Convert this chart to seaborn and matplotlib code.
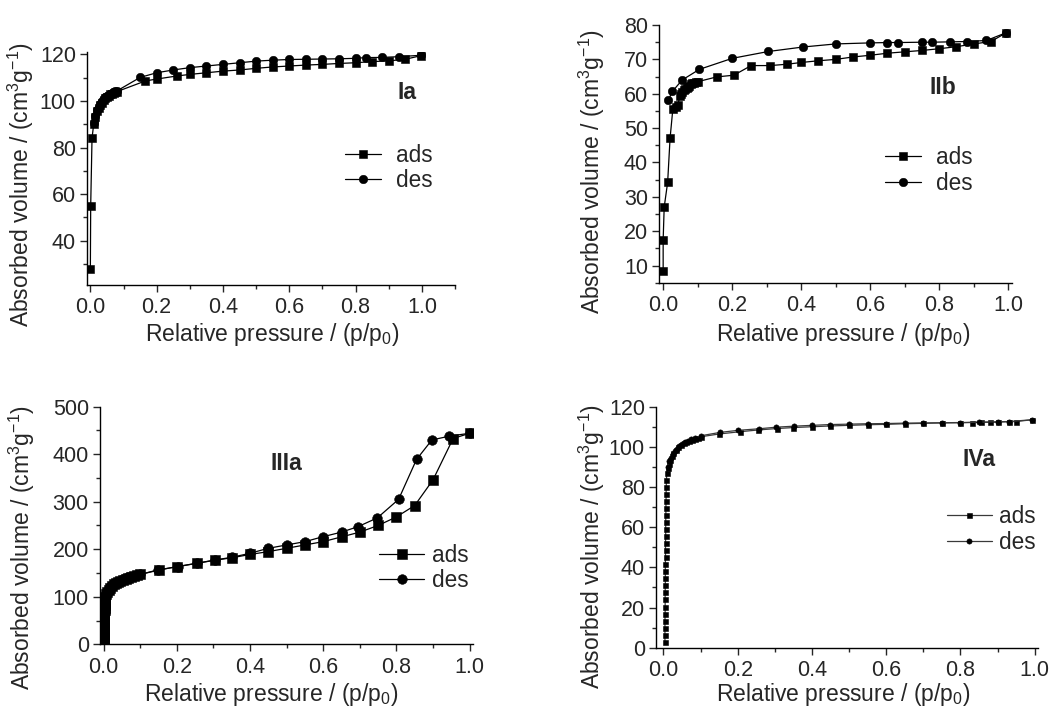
import matplotlib
matplotlib.use("Agg")
import matplotlib.pyplot as plt
from matplotlib.ticker import MultipleLocator
import seaborn as sns

# ---- Ia ----
ia_ads_p = [0.0, 0.001, 0.005, 0.01, 0.015, 0.02, 0.025, 0.03, 0.035, 0.04, 0.045, 0.05, 0.055,
            0.06, 0.065, 0.07, 0.075, 0.08, 0.166, 0.2, 0.26, 0.3, 0.35, 0.4, 0.45, 0.5, 0.55,
            0.6, 0.65, 0.7, 0.75, 0.8, 0.85, 0.9, 0.95, 0.996]
ia_ads_v = [28, 55, 84, 90, 93, 95.5, 97, 98.2, 99.3, 100.3, 101.1, 101.8, 102.3,
            102.8, 103.2, 103.5, 103.8, 104, 108.6, 109.4, 110.7, 111.4, 112.1, 112.8, 113.3, 114, 114.6,
            115, 115.4, 115.7, 116.1, 116.4, 116.9, 117.2, 117.9, 119.4]
ia_des_p = [0.01, 0.015, 0.02, 0.025, 0.03, 0.035, 0.04, 0.045, 0.05, 0.055, 0.06, 0.065, 0.07,
            0.075, 0.08, 0.15, 0.2, 0.25, 0.3, 0.35, 0.4, 0.45, 0.5, 0.55, 0.6, 0.65, 0.7, 0.75,
            0.8, 0.83, 0.88, 0.93, 0.996]
ia_des_v = [90.5, 93.5, 96, 97.5, 98.7, 99.8, 100.7, 101.5, 102.2, 102.7, 103.1, 103.5, 103.8,
            104.1, 104.3, 110.1, 112.1, 113.3, 114.3, 115, 115.7, 116.4, 117.1, 117.5, 117.8, 117.9, 118, 118.1,
            118.3, 118.6, 118.7, 119, 119.6]

# ---- IIb ----
iib_ads_p = [0.0, 0.0, 0.003, 0.013, 0.02, 0.028, 0.036, 0.043, 0.048, 0.052, 0.056, 0.06, 0.064,
             0.068, 0.072, 0.076, 0.08, 0.085, 0.09, 0.095, 0.1, 0.155, 0.205, 0.255, 0.31, 0.36,
             0.4, 0.45, 0.5, 0.55, 0.6, 0.65, 0.7, 0.75, 0.8, 0.85, 0.9, 0.95, 0.995]
iib_ads_v = [8.5, 17.5, 27, 34.2, 47, 55.5, 56, 56.7, 59.4, 60, 60.5, 61, 61.4,
             61.8, 62.1, 62.4, 62.7, 63, 63.2, 63.4, 63.5, 64.9, 65.4, 68.2, 68.2, 68.6,
             69.1, 69.6, 70.0, 70.7, 71.2, 71.8, 72.2, 72.6, 73.1, 73.7, 74.5, 75.2, 77.8]
iib_des_p = [0.015, 0.027, 0.055, 0.105, 0.2, 0.305, 0.405, 0.5, 0.6, 0.65, 0.68, 0.75, 0.78,
             0.83, 0.88, 0.937, 0.995]
iib_des_v = [58.2, 60.7, 64.0, 67.1, 70.3, 72.3, 73.6, 74.5, 74.8, 74.9, 74.9, 75.0, 75.0,
             75.1, 75.2, 75.5, 77.8]

# ---- IIIa ----
iiia_ads_p = [0.001, 0.001, 0.001, 0.001, 0.001, 0.0015, 0.0015, 0.0015, 0.0015, 0.0015, 0.002, 0.002,
              0.002, 0.002, 0.0025, 0.0025, 0.003, 0.003, 0.0035, 0.004, 0.005, 0.007, 0.01, 0.014,
              0.018, 0.023, 0.028, 0.034, 0.04, 0.046, 0.053, 0.06, 0.067, 0.075, 0.083, 0.09, 0.1,
              0.15, 0.2, 0.255, 0.305, 0.35, 0.4, 0.45, 0.5, 0.55, 0.6, 0.65, 0.7, 0.75, 0.8,
              0.85, 0.9, 0.955, 1.0]
iiia_ads_v = [2, 7, 12, 17, 22, 27, 32, 37, 42, 47, 52, 57,
              62, 67, 72, 77, 82, 86, 90, 95, 100, 105, 110, 115,
              119, 123, 126, 129, 131.5, 134, 136, 138, 140, 142, 143.5, 145, 147,
              156, 163.5, 170.5, 177, 182, 189, 195, 202, 209, 216, 226, 236, 250, 268,
              292, 346, 433, 444]
iiia_des_p = [0.005, 0.01, 0.018, 0.028, 0.04, 0.053, 0.067, 0.083, 0.1, 0.148, 0.204, 0.255,
              0.305, 0.35, 0.4, 0.45, 0.5, 0.55, 0.6, 0.65, 0.695, 0.748, 0.806, 0.855, 0.897,
              0.945, 1.0]
iiia_des_v = [101, 111, 120, 127, 132, 137, 141, 144, 147, 156.5, 163.5, 170.5,
              177.5, 183, 191.5, 202, 209, 216, 226.5, 236, 247.5, 266, 305, 389, 430,
              438, 444]

# ---- IVa ----
iva_ads_p = [0.004, 0.004, 0.004, 0.004, 0.0045, 0.0045, 0.0045, 0.0045, 0.005, 0.005, 0.005, 0.005,
             0.0055, 0.0055, 0.0055, 0.006, 0.006, 0.006, 0.0065, 0.0065, 0.007, 0.007, 0.0075, 0.008,
             0.009, 0.011, 0.014, 0.018, 0.022, 0.027, 0.033, 0.04, 0.047, 0.054, 0.061, 0.068,
             0.076, 0.084, 0.092, 0.1, 0.15, 0.205, 0.255, 0.305, 0.35, 0.4, 0.45, 0.5, 0.55,
             0.6, 0.65, 0.7, 0.75, 0.8, 0.83, 0.855, 0.88, 0.9, 0.93, 0.95, 0.994]
iva_ads_v = [3, 6.5, 10, 13.5, 17, 20.5, 24, 27.5, 31, 34.5, 38, 41.5,
             45, 48.5, 52, 55.5, 59, 62.5, 66, 69.5, 73, 76.5, 80, 83.5,
             87, 89.5, 91.5, 93.5, 95.5, 97, 98.5, 99.8, 100.9, 101.8, 102.5, 103,
             103.5, 104, 104.5, 105, 106.4, 107.5, 108.4, 109.1, 109.6, 110, 110.4, 110.7, 111,
             111.2, 111.5, 111.7, 111.9, 112, 112.1, 112.2, 112.2, 112.3, 112.5, 112.6, 113.5]
iva_des_p = [0.012, 0.016, 0.02, 0.025, 0.03, 0.036, 0.043, 0.05, 0.058, 0.066, 0.075, 0.085,
             0.1, 0.153, 0.2, 0.258, 0.304, 0.353, 0.4, 0.45, 0.5, 0.55, 0.6, 0.65, 0.7, 0.75,
             0.8, 0.85, 0.9, 0.93, 0.994]
iva_des_v = [90, 92.7, 94.5, 96.3, 97.8, 99, 100.2, 101.2, 102.2, 103, 103.7, 104.4,
             105.5, 107.2, 108.2, 109, 109.8, 110.3, 110.7, 111.1, 111.3, 111.5, 111.6, 111.8, 111.9, 112,
             112.1, 112.3, 112.5, 112.6, 113.5]

sns.set_style("ticks")
plt.rcParams["font.family"] = ["Liberation Sans", "DejaVu Sans"]
plt.rcParams["mathtext.fontset"] = "custom"
plt.rcParams["mathtext.rm"] = "Liberation Sans"

XLABEL = r"Relative pressure / (p/p$\mathregular{_0}$)"
YLABEL = r"Absorbed volume / (cm$\mathregular{^3}$g$\mathregular{^{-1}}$)"

fig = plt.figure(figsize=(10.59, 7.07), dpi=100)


def panel(rect, ads_p, ads_v, des_p, des_v, name, xlim, ylim, ymaj, ymin,
          name_xy, leg_xy, ylab_xy, xlab_xy, ms, lw=0.9, col="black", hl=1.6, htp=0.6):
    ax = fig.add_axes(rect)
    sns.lineplot(x=ads_p, y=ads_v, ax=ax, color=col, marker="s", markersize=ms,
                 markerfacecolor="black", markeredgecolor="black", markeredgewidth=0.4,
                 linewidth=lw, estimator=None, sort=False, label="ads")
    sns.lineplot(x=des_p, y=des_v, ax=ax, color=col, marker="o", markersize=ms * 1.05,
                 markerfacecolor="black", markeredgecolor="black", markeredgewidth=0.4,
                 linewidth=lw, estimator=None, sort=False, label="des")
    ax.set_xlim(*xlim)
    ax.set_ylim(*ylim)
    ax.xaxis.set_major_locator(MultipleLocator(0.2))
    ax.xaxis.set_minor_locator(MultipleLocator(0.1))
    ax.yaxis.set_major_locator(MultipleLocator(ymaj))
    ax.yaxis.set_minor_locator(MultipleLocator(ymin))
    ax.tick_params(which="major", direction="out", length=5, width=1, labelsize=15.5)
    ax.tick_params(which="minor", direction="out", length=3, width=1)
    ax.tick_params(axis="x", pad=4)
    ax.tick_params(axis="y", pad=3)
    for s in ["top", "right"]:
        ax.spines[s].set_visible(False)
    for s in ["left", "bottom"]:
        ax.spines[s].set_linewidth(1)
        ax.spines[s].set_color("black")
    ax.set_xlabel(XLABEL, fontsize=16.5)
    ax.set_ylabel(YLABEL, fontsize=16.5)
    ax.xaxis.set_label_coords(*xlab_xy)
    ax.yaxis.set_label_coords(*ylab_xy)
    ax.text(name_xy[0], name_xy[1], name, transform=ax.transAxes, fontsize=16.5,
            fontweight="bold", ha="center", va="center")
    handles, labels = ax.get_legend_handles_labels()
    ax.legend(handles, labels, loc="upper left", bbox_to_anchor=leg_xy, frameon=False,
              borderpad=0, borderaxespad=0, handlelength=hl, handletextpad=htp,
              labelspacing=0.1, fontsize=16.3, numpoints=1)
    return ax


panel([0.0822, 0.5969, 0.3475, 0.3295], ia_ads_p, ia_ads_v, ia_des_p, ia_des_v, "Ia",
      (-0.01, 1.1), (21, 121), 20, 10, (0.87, 0.828), (0.701, 0.605),
      (-0.139, 0.43), (0.502, -0.153), ms=5.8, hl=1.6, htp=0.65)

panel([0.6223, 0.6001, 0.333, 0.3645], iib_ads_p, iib_ads_v, iib_des_p, iib_des_v, "IIb",
      (-0.012, 1.01), (5, 80), 10, 5, (0.806, 0.758), (0.641, 0.529),
      (-0.147, 0.431), (0.523, -0.147), ms=5.8, hl=1.6, htp=0.65)

panel([0.0944, 0.0887, 0.3525, 0.3361], iiia_ads_p, iiia_ads_v, iiia_des_p, iiia_des_v, "IIIa",
      (-0.01, 1.01), (0, 500), 100, 50, (0.5, 0.762), (0.748, 0.423),
      (-0.169, 0.407), (0.46, -0.153), ms=6.6, hl=2.0, htp=0.35)

panel([0.6195, 0.0839, 0.361, 0.3409], iva_ads_p, iva_ads_v, iva_des_p, iva_des_v, "IVa",
      (-0.02, 1.01), (0, 120), 20, 10, (0.846, 0.779), (0.760, 0.591),
      (-0.128, 0.419), (0.49, -0.137), ms=3.6, lw=0.9, col="#3a3a3a", hl=2.0, htp=0.3)

fig.savefig("out.png", dpi=100)
